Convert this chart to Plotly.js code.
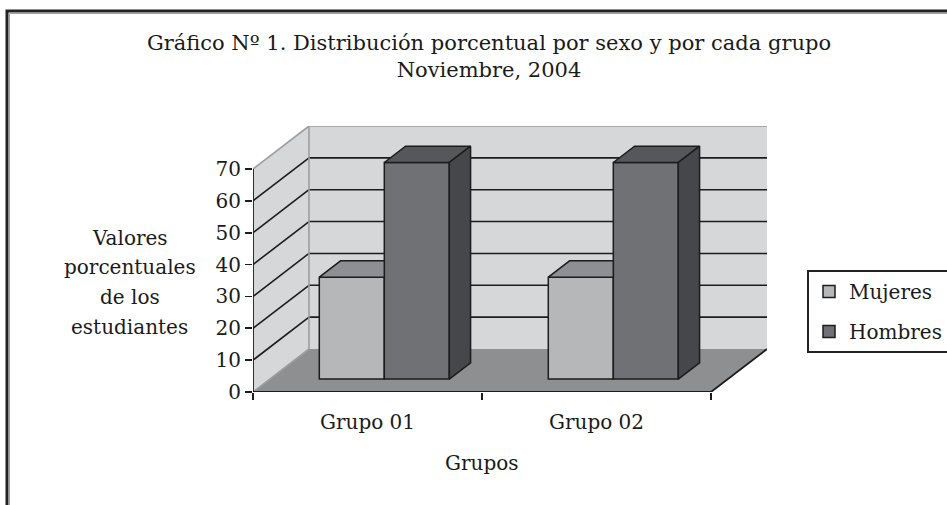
<!DOCTYPE html>
<html><head><meta charset="utf-8">
<script src="https://cdn.plot.ly/plotly-3.0.1.min.js"></script>
<style>html,body{margin:0;padding:0;background:#fff}#chart{width:947px;height:505px}</style>
</head><body><div id="chart"></div>
<script>
const categories = ['Grupo 01', 'Grupo 02'];
const seriesNames = ['Mujeres', 'Hombres'];
const mujeres = [32, 32];
const hombres = [68, 68];
const yTicks = [0, 10, 20, 30, 40, 50, 60, 70];
const chartTitle = 'Gráfico Nº 1. Distribución porcentual por sexo y por cada grupo<br>Noviembre, 2004';
const xTitle = 'Grupos';
const yTitleLines = ['Valores', 'porcentuales', 'de los', 'estudiantes'];

// ---- geometry (pixel layout of the pseudo-3D box) ----
const W = 947, H = 505, L = 253, T = 126;
const PX_CAT = 229, PX_UNIT = 3.186;
const DX = 56 / PX_CAT, DY = 43 / PX_UNIT;      // full depth offset in data units
const nCat = categories.length;
const xMin = -0.5, xMax = nCat - 0.5 + DX;
const yTop = yTicks[yTicks.length - 1];
const yMax = yTop + DY;
const plotW = (xMax - xMin) * PX_CAT, plotH = yMax * PX_UNIT;
const B = H - T - plotH, R = W - L - plotW;
const px = v => (v - L) / plotW;
const py = v => (H - B - v) / plotH;

const d0 = 0.30, d1 = 0.68;             // bar depth span
const barW = 65 / PX_CAT;
const shift = d0 * DX, base0 = d0 * DY;
const ddx = (d1 - d0) * DX, ddy = (d1 - d0) * DY;

const FONT = 'DejaVu Serif';
const COL = {
  wall: '#d6d7d9', floor: '#8e8f91', edge: '#9d9d9f', line: '#1c1c1c',
  mFront: '#b6b7b9', mTop: '#8e8f92', hFront: '#707175', hTop: '#56575a', hSide: '#46474a'
};

const idx = categories.map((c, i) => i);

// front faces (bars)
const traces = [
  { type: 'bar', name: seriesNames[0], x: idx, y: mujeres, base: base0,
    offset: shift - barW, width: barW, legendgroup: 'm',
    marker: { color: COL.mFront, line: { color: COL.line, width: 1.5 } }, hoverinfo: 'skip' },
  { type: 'bar', name: seriesNames[1], x: idx, y: hombres, base: base0,
    offset: shift, width: barW, legendgroup: 'h',
    marker: { color: COL.hFront, line: { color: COL.line, width: 1.5 } }, hoverinfo: 'skip' }
];

// top / side faces computed from the data
function poly(list) {
  const xs = [], ys = [];
  list.forEach(p => { p.forEach(q => { xs.push(q[0]); ys.push(q[1]); }); xs.push(p[0][0]); ys.push(p[0][1]); xs.push(null); ys.push(null); });
  return { xs, ys };
}
const mTops = [], hTops = [], hSides = [];
idx.forEach(i => {
  const mx0 = i + shift - barW, mx1 = i + shift, myt = base0 + mujeres[i];
  if (mujeres[i] <= hombres[i]) {
    mTops.push([[mx0, myt], [mx1, myt], [mx1, myt + ddy], [mx0 + ddx, myt + ddy]]);
  } else {
    mTops.push([[mx0, myt], [mx1, myt], [mx1 + ddx, myt + ddy], [mx0 + ddx, myt + ddy]]);
  }
  const hx0 = i + shift, hx1 = hx0 + barW, hyt = base0 + hombres[i];
  hTops.push([[hx0, hyt], [hx1, hyt], [hx1 + ddx, hyt + ddy], [hx0 + ddx, hyt + ddy]]);
  hSides.push([[hx1, base0], [hx1 + ddx, base0 + ddy], [hx1 + ddx, hyt + ddy], [hx1, hyt]]);
});
[[mTops, COL.mTop], [hTops, COL.hTop], [hSides, COL.hSide]].forEach(([list, c]) => {
  const p = poly(list);
  traces.push({ type: 'scatter', mode: 'lines', x: p.xs, y: p.ys, fill: 'toself', fillcolor: c,
    line: { color: COL.line, width: 1.5 }, showlegend: false, hoverinfo: 'skip', legendgroup: 'z' });
});

// walls, floor, grid
const shapes = [];
const bx0 = xMin + DX, bx1 = xMax;
shapes.push({ type: 'path', layer: 'below', xref: 'x', yref: 'y',
  path: `M${bx0},${DY} L${bx1},${DY} L${bx1},${DY + yTop} L${bx0},${DY + yTop} Z`,
  fillcolor: COL.wall, line: { width: 0 } });
shapes.push({ type: 'path', layer: 'below', xref: 'x', yref: 'y',
  path: `M${xMin},0 L${bx0},${DY} L${bx0},${DY + yTop} L${xMin},${yTop} Z`,
  fillcolor: COL.wall, line: { width: 0 } });
shapes.push({ type: 'path', layer: 'below', xref: 'x', yref: 'y',
  path: `M${xMin},0 L${nCat - 0.5},0 L${xMax},${DY} L${bx0},${DY} Z`,
  fillcolor: COL.floor, line: { width: 0 } });
yTicks.forEach(v => {
  if (v === 0 || v === yTop) return;
  shapes.push({ type: 'line', layer: 'below', xref: 'x', yref: 'y', x0: bx0, x1: bx1, y0: DY + v, y1: DY + v,
    line: { color: COL.line, width: 1.6 } });
  shapes.push({ type: 'line', layer: 'below', xref: 'x', yref: 'y', x0: xMin, x1: bx0, y0: v, y1: DY + v,
    line: { color: COL.line, width: 1.6 } });
});
// wall edges (gray)
[[xMin, yTop, bx0, DY + yTop], [bx0, DY + yTop, bx1, DY + yTop], [bx0, DY, bx0, DY + yTop], [xMin, 0, bx0, DY]]
  .forEach(s => shapes.push({ type: 'line', layer: 'below', xref: 'x', yref: 'y', x0: s[0], y0: s[1], x1: s[2], y1: s[3],
    line: { color: COL.edge, width: 1.6 } }));
// front axes (black)
[[xMin, 0, xMin, yTop], [xMin, 0, nCat - 0.5, 0], [nCat - 0.5, 0, xMax, DY]]
  .forEach(s => shapes.push({ type: 'line', layer: 'below', xref: 'x', yref: 'y', x0: s[0], y0: s[1], x1: s[2], y1: s[3],
    line: { color: COL.line, width: 1.8 } }));
// outer frame
shapes.push({ type: 'path', xref: 'paper', yref: 'paper',
  path: `M${px(7)},${py(520)} L${px(7)},${py(11)} L${px(960)},${py(11)}`,
  line: { color: '#222', width: 3 } });
shapes.push({ type: 'path', xref: 'paper', yref: 'paper',
  path: `M${px(9.5)},${py(520)} L${px(9.5)},${py(13.5)} L${px(960)},${py(13.5)}`,
  line: { color: '#a0a0a0', width: 1 } });

const yTitleY = [238, 267, 297, 327];
const annotations = yTitleLines.map((t, k) => ({
  text: t, xref: 'paper', yref: 'paper', x: px(130), y: py(yTitleY[k]), xanchor: 'center', yanchor: 'middle',
  showarrow: false, font: { family: FONT, size: 20, color: '#1a1a1a' }
}));
annotations.push({ text: xTitle, xref: 'x', yref: 'paper', x: (xMin + nCat - 0.5) / 2, y: py(463),
  xanchor: 'center', yanchor: 'middle', showarrow: false, font: { family: FONT, size: 20, color: '#1a1a1a' } });

const layout = {
  width: W, height: H,
  margin: { l: L, r: R, t: T, b: B, pad: 0, autoexpand: false },
  paper_bgcolor: '#fff', plot_bgcolor: 'rgba(0,0,0,0)',
  font: { family: FONT, size: 20, color: '#1a1a1a' },
  title: { text: chartTitle, x: 489 / W, xanchor: 'center', xref: 'container',
    y: 1 - 50 / H, yanchor: 'top', yref: 'container', font: { family: FONT, size: 21, color: '#1a1a1a' } },
  barmode: 'overlay',
  showlegend: true,
  legend: { x: px(807), y: py(270), xanchor: 'left', yanchor: 'top', bgcolor: '#fff',
    bordercolor: '#222', borderwidth: 2, tracegroupgap: 11, traceorder: 'grouped',
    font: { family: FONT, size: 20, color: '#1a1a1a' } },
  xaxis: { range: [xMin, xMax], showgrid: false, zeroline: false, showline: false,
    tickmode: 'array', tickvals: idx, ticktext: categories,
    ticks: 'outside', ticklen: 12, tickcolor: 'rgba(0,0,0,0)',
    minor: { tickmode: 'array', tickvals: [...idx.map(i => i - 0.5), nCat - 0.5], ticks: 'outside',
      ticklen: 7, tickwidth: 1.8, tickcolor: COL.line, showgrid: false },
    tickfont: { family: FONT, size: 20, color: '#1a1a1a' }, fixedrange: true },
  yaxis: { range: [0, yMax], showgrid: false, zeroline: false, showline: false,
    tickmode: 'array', tickvals: yTicks, ticks: 'outside', ticklen: 7, tickwidth: 1.8, tickcolor: COL.line,
    tickfont: { family: FONT, size: 20, color: '#1a1a1a' }, fixedrange: true },
  shapes, annotations
};

Plotly.newPlot('chart', traces, layout, { displayModeBar: false, staticPlot: true });
</script>
</body></html>
